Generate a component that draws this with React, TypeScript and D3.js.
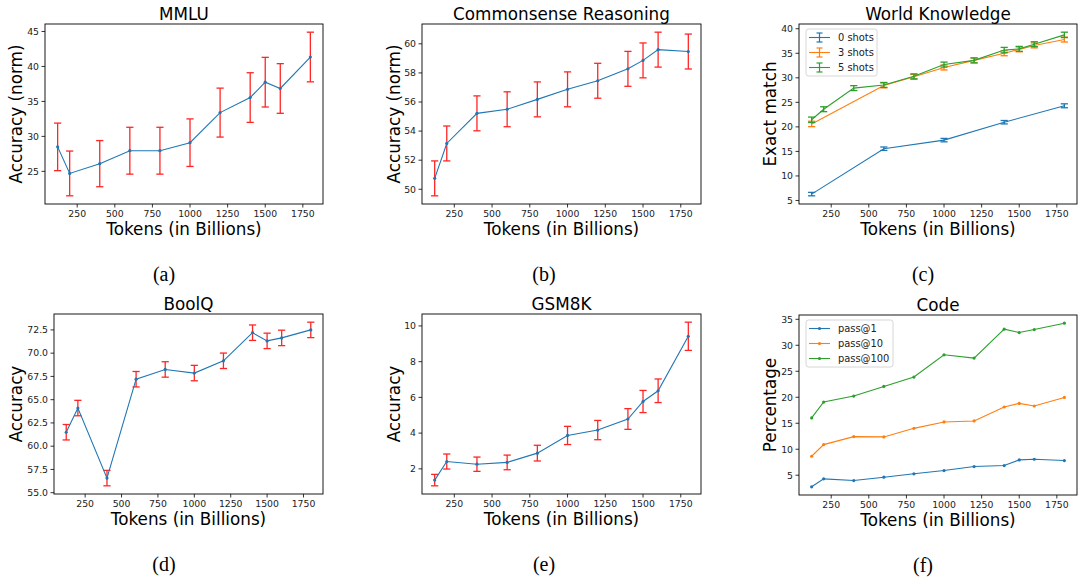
import React from "react";
import * as d3 from "d3";

// training tokens (in billions) at each checkpoint
const tokens = [120, 200, 400, 600, 800, 1000, 1200, 1400, 1500, 1600, 1800];
const xTicks = [250, 500, 750, 1000, 1250, 1500, 1750];

const mmlu = [28.5, 24.7, 26.1, 27.95, 27.95, 29.1, 33.4, 35.55, 37.75, 36.85, 41.35];
const mmluErr = [3.4, 3.2, 3.3, 3.35, 3.35, 3.4, 3.5, 3.55, 3.55, 3.55, 3.55];

const commonsense = [50.75, 53.15, 55.22, 55.5, 56.18, 56.87, 57.46, 58.28, 58.86, 59.6, 59.47];
const commonsenseErr = [1.2, 1.2, 1.2, 1.2, 1.2, 1.2, 1.2, 1.2, 1.2, 1.2, 1.2];

const wk0Tokens = [120, 600, 1000, 1400, 1800];
const wk0 = [6.3, 15.55, 17.3, 20.95, 24.3];
const wk0Err = [0.35, 0.35, 0.35, 0.35, 0.4];
const wk3Tokens = [120, 600, 800, 1000, 1200, 1400, 1500, 1600, 1800];
const wk3 = [20.6, 28.45, 30.2, 32.1, 33.55, 35.0, 35.8, 36.6, 37.8];
const wk3Err = [0.55, 0.5, 0.5, 0.5, 0.5, 0.5, 0.5, 0.5, 0.5];
const wk5 = [21.45, 23.6, 27.9, 28.55, 30.3, 32.7, 33.55, 35.65, 35.9, 36.85, 38.75];
const wk5Err = [0.55, 0.5, 0.5, 0.5, 0.5, 0.5, 0.5, 0.55, 0.5, 0.5, 0.55];

const boolq = [61.5, 64.1, 56.57, 67.2, 68.25, 67.86, 69.18, 72.2, 71.32, 71.64, 72.5];
const boolqErr = [0.83, 0.83, 0.83, 0.83, 0.83, 0.83, 0.83, 0.83, 0.83, 0.83, 0.83];

const gsm8k = [1.37, 2.41, 2.26, 2.36, 2.88, 3.87, 4.17, 4.79, 5.77, 6.37, 9.42];
const gsm8kErr = [0.32, 0.42, 0.4, 0.41, 0.44, 0.51, 0.54, 0.58, 0.62, 0.66, 0.79];

const pass1 = [2.77, 4.3, 3.98, 4.62, 5.27, 5.9, 6.67, 6.86, 7.95, 8.07, 7.82];
const pass10 = [8.65, 10.89, 12.43, 12.37, 14.02, 15.25, 15.44, 18.13, 18.82, 18.32, 19.97];
const pass100 = [16.02, 19.08, 20.23, 22.08, 23.89, 28.17, 27.53, 33.1, 32.45, 33.02, 34.25];

const BLUE = "#1f77b4", ORANGE = "#ff7f0e", GREEN = "#2ca02c";
const SANS = "DejaVu Sans";

type Series = { x: number[]; y: number[]; err?: number[]; color: string; label?: string };
type Spec = {
  title: string;
  ylabel: string;
  frame: [number, number, number, number];
  yTicks: number[];
  yFmt: (v: number) => string;
  series: Series[];
  errColor?: string;
  markers: boolean;
  legend?: "err" | "line";
  yLabelX: number;
  caption: string;
  captionX: number;
};

const int = (v: number) => String(v);

const panels: Spec[] = [
  {
    title: "MMLU", ylabel: "Accuracy (norm)", frame: [45, 24, 323, 204],
    yTicks: [25, 30, 35, 40, 45], yFmt: int,
    series: [{ x: tokens, y: mmlu, err: mmluErr, color: BLUE }],
    errColor: "red", markers: true, yLabelX: 21.5, caption: "(a)", captionX: 164,
  },
  {
    title: "Commonsense Reasoning", ylabel: "Accuracy (norm)", frame: [422, 24, 701, 204],
    yTicks: [50, 52, 54, 56, 58, 60], yFmt: int,
    series: [{ x: tokens, y: commonsense, err: commonsenseErr, color: BLUE }],
    errColor: "red", markers: true, yLabelX: 399.5, caption: "(b)", captionX: 544,
  },
  {
    title: "World Knowledge", ylabel: "Exact match", frame: [799, 24, 1077, 204],
    yTicks: [5, 10, 15, 20, 25, 30, 35, 40], yFmt: int,
    series: [
      { x: wk0Tokens, y: wk0, err: wk0Err, color: BLUE, label: "0 shots" },
      { x: wk3Tokens, y: wk3, err: wk3Err, color: ORANGE, label: "3 shots" },
      { x: tokens, y: wk5, err: wk5Err, color: GREEN, label: "5 shots" },
    ],
    markers: false, legend: "err", yLabelX: 776, caption: "(c)", captionX: 923,
  },
  {
    title: "BoolQ", ylabel: "Accuracy", frame: [54, 314, 323, 494],
    yTicks: [55, 57.5, 60, 62.5, 65, 67.5, 70, 72.5], yFmt: (v) => v.toFixed(1),
    series: [{ x: tokens, y: boolq, err: boolqErr, color: BLUE }],
    errColor: "red", markers: true, yLabelX: 21.5, caption: "(d)", captionX: 164,
  },
  {
    title: "GSM8K", ylabel: "Accuracy", frame: [422, 314, 701, 494],
    yTicks: [2, 4, 6, 8, 10], yFmt: int,
    series: [{ x: tokens, y: gsm8k, err: gsm8kErr, color: BLUE }],
    errColor: "red", markers: true, yLabelX: 399.5, caption: "(e)", captionX: 544,
  },
  {
    title: "Code", ylabel: "Percentage", frame: [799, 315, 1077, 495],
    yTicks: [5, 10, 15, 20, 25, 30, 35], yFmt: int,
    series: [
      { x: tokens, y: pass1, color: BLUE, label: "pass@1" },
      { x: tokens, y: pass10, color: ORANGE, label: "pass@10" },
      { x: tokens, y: pass100, color: GREEN, label: "pass@100" },
    ],
    markers: true, legend: "line", yLabelX: 776, caption: "(f)", captionX: 923,
  },
];

// matplotlib-style 5% auto margin
function padded(lo: number, hi: number): [number, number] {
  const m = (hi - lo) * 0.05;
  return [lo - m, hi + m];
}

function Panel({ p }: { p: Spec }) {
  const [l, t, r, b] = p.frame;
  const xs = p.series.flatMap((s) => s.x);
  const lows = p.series.flatMap((s) => s.y.map((v, i) => v - (s.err ? s.err[i] : 0)));
  const highs = p.series.flatMap((s) => s.y.map((v, i) => v + (s.err ? s.err[i] : 0)));
  const x = d3.scaleLinear().domain(padded(d3.min(xs)!, d3.max(xs)!)).range([l, r]);
  const y = d3.scaleLinear().domain(padded(d3.min(lows)!, d3.max(highs)!)).range([b, t]);
  const cx = (l + r) / 2;
  const cy = (t + b) / 2;
  const cap = 3.6;

  return (
    <g>
      {p.series.map((s, si) => {
        const line = d3.line<number>().x((_, i) => x(s.x[i])).y((d) => y(d));
        const ec = p.errColor || s.color;
        return (
          <g key={si}>
            {s.err &&
              s.y.map((v, i) => {
                const px = x(s.x[i]);
                const y0 = y(v - s.err![i]);
                const y1 = y(v + s.err![i]);
                return (
                  <g key={i} stroke={ec} strokeWidth={1.3} opacity={p.errColor ? 0.85 : 1}>
                    <line x1={px} x2={px} y1={y0} y2={y1} />
                    <line x1={px - cap} x2={px + cap} y1={y0} y2={y0} />
                    <line x1={px - cap} x2={px + cap} y1={y1} y2={y1} />
                  </g>
                );
              })}
            <path d={line(s.y)!} fill="none" stroke={s.color} strokeWidth={1.1} />
            {p.markers &&
              s.y.map((v, i) => <circle key={i} cx={x(s.x[i])} cy={y(v)} r={1.6} fill={s.color} />)}
          </g>
        );
      })}

      <rect x={l} y={t} width={r - l} height={b - t} fill="none" stroke="#000" strokeWidth={0.9} />

      {xTicks.map((v) => (
        <g key={v}>
          <line x1={x(v)} x2={x(v)} y1={b} y2={b + 3.5} stroke="#000" strokeWidth={0.8} />
          <text x={x(v)} y={b + 13.3} fontSize={9.3} textAnchor="middle" fill="#222">
            {v}
          </text>
        </g>
      ))}
      {p.yTicks.map((v) => (
        <g key={v}>
          <line x1={l - 3.5} x2={l} y1={y(v)} y2={y(v)} stroke="#000" strokeWidth={0.8} />
          <text x={l - 6} y={y(v) + 3.3} fontSize={9.3} textAnchor="end" fill="#222">
            {p.yFmt(v)}
          </text>
        </g>
      ))}

      <text x={cx} y={t - 4.3} fontSize={16.8} textAnchor="middle">
        {p.title}
      </text>
      <text x={cx} y={b + 31} fontSize={16.8} textAnchor="middle">
        {p.xlabel ?? "Tokens (in Billions)"}
      </text>
      <text
        transform={`translate(${p.yLabelX},${cy}) rotate(-90)`}
        fontSize={16.8}
        textAnchor="middle"
      >
        {p.ylabel}
      </text>
      <text
        x={p.captionX}
        y={b + 77}
        fontSize={20}
        textAnchor="middle"
        fontFamily="Liberation Serif"
      >
        {p.caption}
      </text>

      {p.legend && (
        <g>
          <rect
            x={l + 7}
            y={t + 5}
            width={p.legend === "err" ? 71 : 87}
            height={47}
            rx={2.5}
            fill="#fff"
            fillOpacity={0.8}
            stroke="#ccc"
            strokeWidth={0.8}
          />
          {p.series.map((s, i) => {
            const ry = t + 13.5 + i * 15;
            const hx0 = l + 10;
            const hx1 = l + 31;
            const hm = (hx0 + hx1) / 2;
            return (
              <g key={i}>
                <line x1={hx0} x2={hx1} y1={ry} y2={ry} stroke={s.color} strokeWidth={1.1} />
                {p.legend === "err" ? (
                  <g stroke={s.color} strokeWidth={1.2}>
                    <line x1={hm} x2={hm} y1={ry - 4.5} y2={ry + 4.5} />
                    <line x1={hm - 3} x2={hm + 3} y1={ry - 4.5} y2={ry - 4.5} />
                    <line x1={hm - 3} x2={hm + 3} y1={ry + 4.5} y2={ry + 4.5} />
                  </g>
                ) : (
                  <circle cx={hm} cy={ry} r={1.6} fill={s.color} />
                )}
                <text x={l + 39} y={ry + 3.5} fontSize={9.9} fill="#222">
                  {s.label}
                </text>
              </g>
            );
          })}
        </g>
      )}
    </g>
  );
}

export default function App() {
  return (
    <svg
      width={1078}
      height={583}
      viewBox="0 0 1078 583"
      style={{ position: "absolute", left: 0, top: 0, background: "#fff" }}
      fontFamily={SANS}
    >
      <rect width={1078} height={583} fill="#fff" />
      {panels.map((p, i) => (
        <Panel key={i} p={p} />
      ))}
    </svg>
  );
}
